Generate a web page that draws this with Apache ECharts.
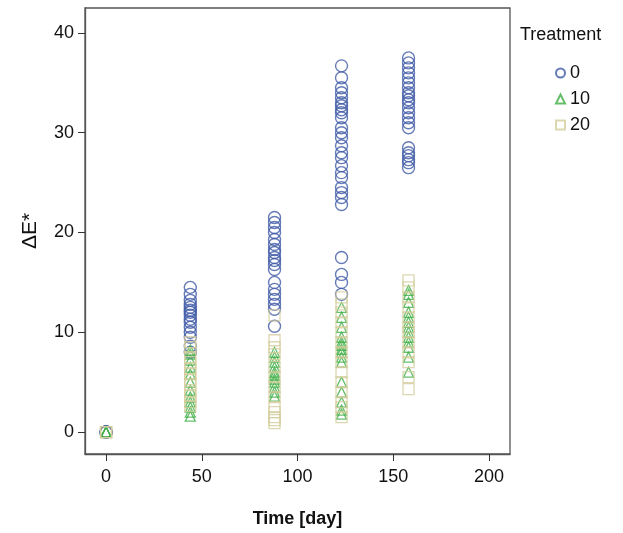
<!DOCTYPE html>
<html>
<head>
<meta charset="utf-8">
<script src="https://cdn.jsdelivr.net/npm/echarts@6/dist/echarts.min.js"></script>
<style>
html,body{margin:0;padding:0;background:#fff;}
#chart{width:623px;height:533px;}
</style>
</head>
<body>
<div id="chart"></div>
<script>
// Sampling days
var days = [0, 44, 88, 123, 158];
var xTicks = [0, 50, 100, 150, 200];
var yTicks = [0, 10, 20, 30, 40];
var treatments = ['0', '10', '20'];

// Treatment 0 (circles), values per day
var t0_d0 = [0, 0, 0, 0];
var t0_d44 = [14.5, 13.8, 13.2, 12.8, 12.5, 12.2, 12.0, 11.7, 11.3, 11.0, 10.5, 10.0, 9.5, 8.6, 8.0];
var t0_d88 = [21.5, 21.0, 20.5, 20.0, 19.3, 18.8, 18.3, 18.0, 17.5, 17.2, 16.8, 16.3, 15.0, 14.3, 13.8, 13.3, 12.8, 12.3, 10.6];
var t0_d123 = [36.7, 35.5, 34.5, 34.0, 33.5, 33.0, 32.7, 32.3, 32.0, 31.5, 30.5, 30.0, 29.5, 28.7, 28.0, 27.5, 26.7, 26.0, 25.5, 24.5, 24.0, 23.5, 22.8, 17.5, 15.8, 15.0, 13.8];
var t0_d158 = [37.5, 37.0, 36.5, 36.0, 35.5, 35.0, 34.5, 34.0, 33.7, 33.3, 33.0, 32.5, 32.0, 31.5, 31.0, 30.5, 28.5, 28.0, 27.7, 27.3, 27.0, 26.5];

// Treatment 10 (triangles)
var t10_d0 = [0, 0, 0, 0];
var t10_d44 = [8.2, 7.8, 7.2, 6.5, 5.8, 5.0, 4.2, 3.5, 3.0, 2.5, 2.0, 1.6];
var t10_d88 = [8.0, 7.5, 7.0, 6.5, 6.0, 5.7, 5.3, 5.0, 4.5, 4.0, 3.6];
var t10_d123 = [12.5, 11.5, 10.5, 9.5, 9.0, 8.7, 8.3, 8.0, 7.5, 7.0, 5.0, 4.0, 3.0, 2.2, 1.8];
var t10_d158 = [14.2, 13.8, 13.0, 12.0, 11.5, 11.0, 10.5, 10.0, 9.5, 9.0, 8.5, 7.5, 6.0];

// Treatment 20 (squares)
var t20_d0 = [0, 0, 0, 0];
var t20_d44 = [9.0, 8.5, 7.5, 7.0, 6.3, 5.8, 5.3, 4.8, 4.0, 3.6, 3.0, 2.6];
var t20_d88 = [11.7, 9.2, 8.5, 7.8, 6.5, 5.5, 4.5, 3.5, 2.5, 2.0, 1.5, 1.2, 0.9];
var t20_d123 = [13.5, 12.8, 12.0, 11.0, 10.0, 9.0, 8.0, 7.0, 6.0, 5.0, 4.0, 3.0, 2.5, 1.5];
var t20_d158 = [15.2, 14.5, 13.5, 12.5, 11.5, 10.5, 10.0, 9.0, 8.0, 7.0, 5.5, 4.3];

function pairs(groups) {
  var out = [];
  groups.forEach(function (vals, i) {
    vals.forEach(function (v) { out.push([days[i], v]); });
  });
  return out;
}

var data0 = pairs([t0_d0, t0_d44, t0_d88, t0_d123, t0_d158]);
var data10 = pairs([t10_d0, t10_d44, t10_d88, t10_d123, t10_d158]);
var data20 = pairs([t20_d0, t20_d44, t20_d88, t20_d123, t20_d158]);

var font = 'Liberation Sans, Arial, sans-serif';
var chart = echarts.init(document.getElementById('chart'));
chart.setOption({
  animation: false,
  backgroundColor: '#fff',
  title: {
    text: 'Treatment',
    left: 515, top: 21,
    textStyle: {fontFamily: font, fontSize: 18, fontWeight: 'normal', color: '#111'}
  },
  legend: {
    orient: 'vertical',
    left: 550, top: 59,
    itemWidth: 9, itemHeight: 9, itemGap: 8,
    textStyle: {fontFamily: font, fontSize: 18, color: '#111'},
    data: treatments
  },
  grid: {
    left: 85, right: 113, top: 8, bottom: 76,
    show: true, borderColor: '#555', borderWidth: 1.3, backgroundColor: '#fff'
  },
  xAxis: {
    type: 'value',
    min: -11, max: 211,
    name: 'Time [day]',
    nameLocation: 'middle', nameGap: 56,
    nameTextStyle: {fontFamily: font, fontSize: 18, fontWeight: 'bold', color: '#111'},
    axisLine: {show: true, onZero: false, lineStyle: {color: '#555', width: 1.3}},
    axisTick: {show: true, inside: false, length: 7, lineStyle: {color: '#333'}, customValues: xTicks},
    axisLabel: {fontFamily: font, fontSize: 18, color: '#111', margin: 14, customValues: xTicks},
    splitLine: {show: false}
  },
  yAxis: {
    type: 'value',
    min: -2.2, max: 42.5,
    name: 'ΔE*',
    nameLocation: 'middle', nameGap: 44,
    nameTextStyle: {fontFamily: font, fontSize: 21, color: '#111'},
    axisLine: {show: true, onZero: false, lineStyle: {color: '#555', width: 1.3}},
    axisTick: {show: true, inside: false, length: 7, lineStyle: {color: '#333'}, customValues: yTicks},
    axisLabel: {fontFamily: font, fontSize: 18, color: '#111', margin: 11, customValues: yTicks},
    splitLine: {show: false}
  },
  series: [
    {
      name: '0', type: 'scatter', symbol: 'circle', symbolSize: 12,
      itemStyle: {color: 'transparent', borderColor: '#3f5aa6', borderWidth: 1.4},
      data: data0
    },
    {
      name: '10', type: 'scatter', symbol: 'triangle', symbolSize: 10,
      itemStyle: {color: 'transparent', borderColor: '#3fae45', borderWidth: 1.3},
      data: data10
    },
    {
      name: '20', type: 'scatter', symbol: 'rect', symbolSize: 11,
      itemStyle: {color: 'transparent', borderColor: '#d3cd9c', borderWidth: 1.3},
      data: data20
    }
  ]
});
</script>
</body>
</html>
